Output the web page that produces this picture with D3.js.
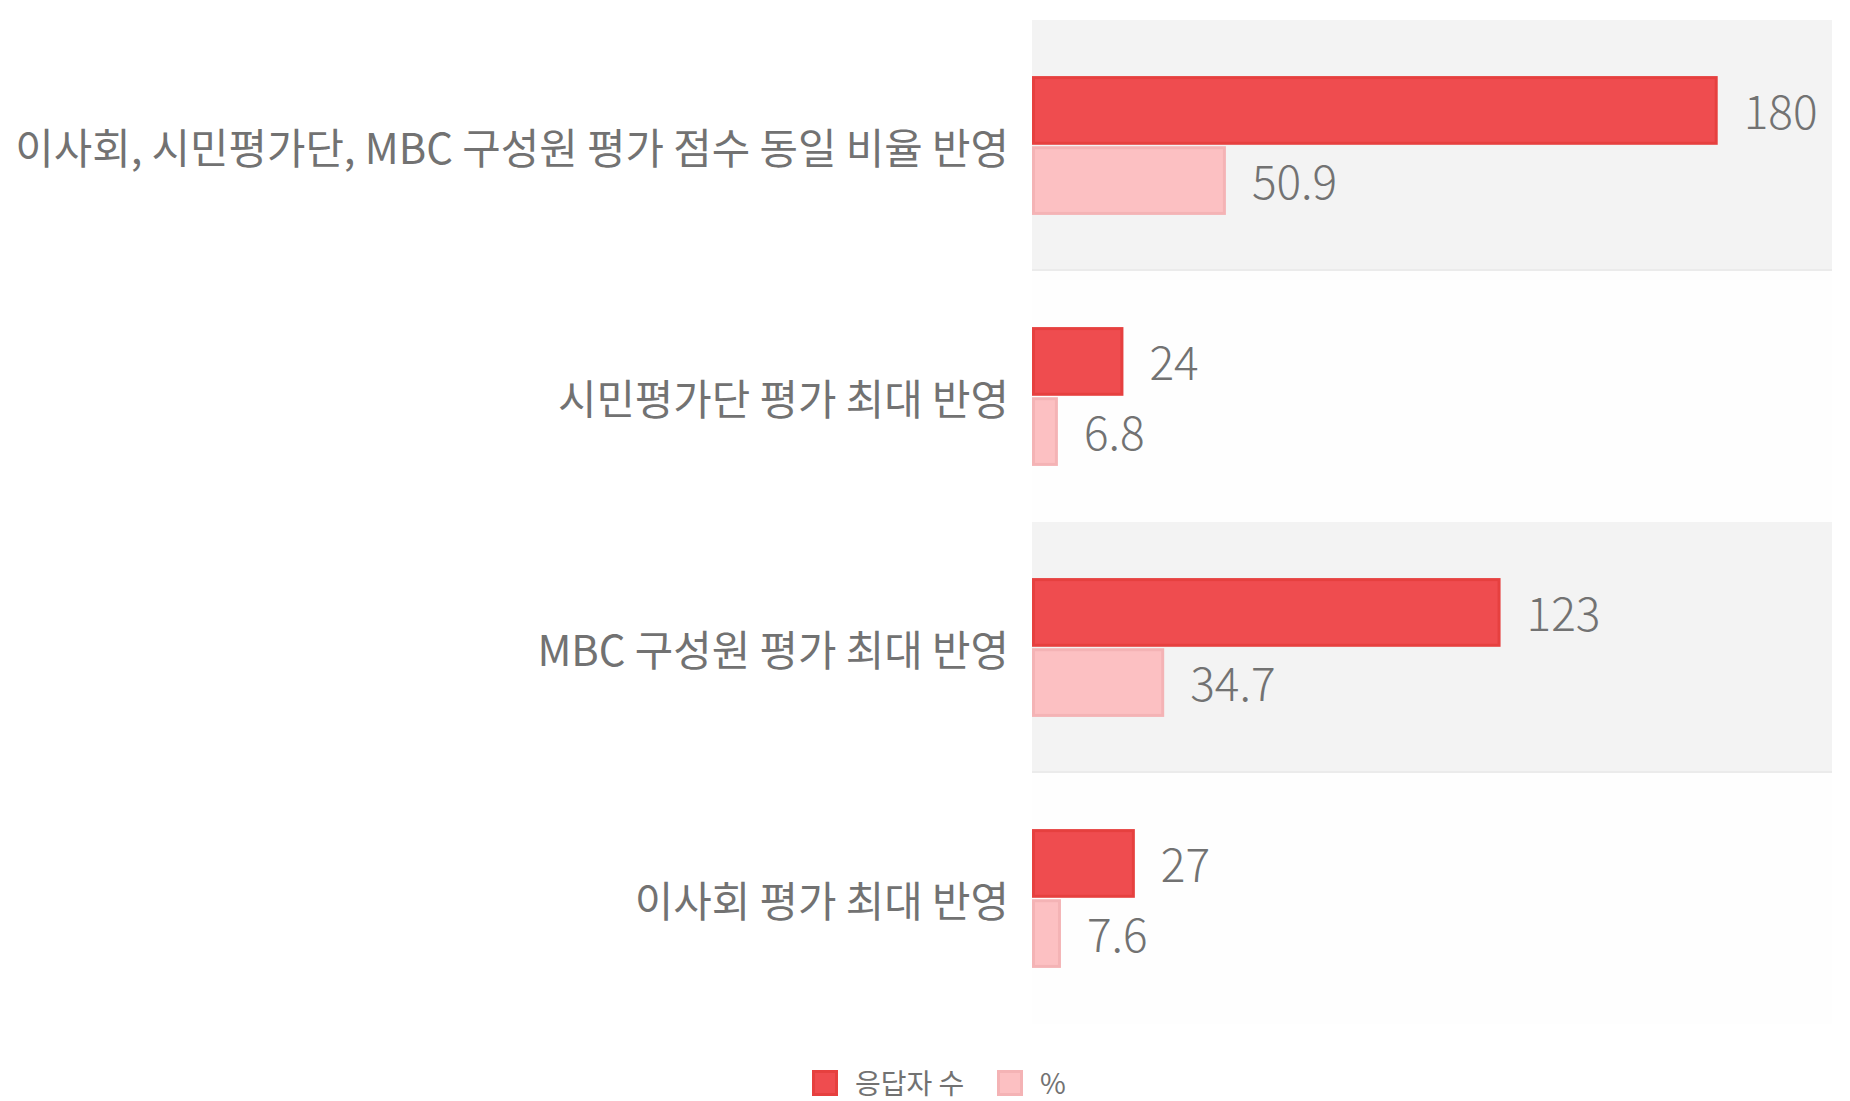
<!DOCTYPE html>
<html><head><meta charset="utf-8">
<script src="https://cdn.jsdelivr.net/npm/d3@7"></script>
<style>
html,body{margin:0;padding:0;background:#fff;}
svg{display:block;font-family:"Noto Sans CJK KR","Noto Sans",sans-serif;}
</style></head>
<body><svg id="chart" width="1850" height="1101"></svg>
<script>
const categories = ["이사회, 시민평가단, MBC 구성원 평가 점수 동일 비율 반영","시민평가단 평가 최대 반영","MBC 구성원 평가 최대 반영","이사회 평가 최대 반영"];
const seriesNames = ["응답자 수","%"];
const respondents = [180,24,123,27];
const percents = [50.9,6.8,34.7,7.6];
const colors = ["#ef4c4f","#fcc0c2"];
const strokes = ["#e6403f","#f4b3b5"];

(function(){
const svg = d3.select("#chart");
const pLeft = 1032, pRight = 1832, pTop = 20, pBottom = 1024;
const x = d3.scaleLinear().domain([0,210]).range([pLeft,pRight]);
const y = d3.scaleBand().domain(categories).range([pTop,pBottom]).paddingInner(0).paddingOuter(0);
const inner = d3.scaleBand().domain(seriesNames).range([0,y.bandwidth()]).paddingOuter(0.8).paddingInner(0.02);

svg.append("g").selectAll("rect").data(categories).join("rect")
  .attr("x",pLeft).attr("y",d=>y(d)).attr("width",pRight-pLeft).attr("height",y.bandwidth())
  .attr("fill",(d,i)=>i%2===0?"#f3f3f3":"#fefefe");
svg.append("g").selectAll("line").data(categories.filter((d,i)=>i%2===0)).join("line")
  .attr("x1",pLeft).attr("x2",pRight).attr("y1",d=>y(d)+y.bandwidth()-1).attr("y2",d=>y(d)+y.bandwidth()-1)
  .attr("stroke","#ebebeb").attr("stroke-width",2);

const data = [];
categories.forEach((c,i)=>{
  data.push({cat:c,series:seriesNames[0],v:respondents[i],label:String(respondents[i]),k:0});
  data.push({cat:c,series:seriesNames[1],v:percents[i],label:percents[i].toFixed(1),k:1});
});

svg.append("g").selectAll("rect").data(data).join("rect")
  .attr("x",x(0)+1.5).attr("y",d=>y(d.cat)+inner(d.series)+1.5)
  .attr("width",d=>x(d.v)-x(0)-3).attr("height",inner.bandwidth()-3)
  .attr("fill",d=>colors[d.k]).attr("stroke",d=>strokes[d.k]).attr("stroke-width",3);

svg.append("g").selectAll("text").data(data).join("text")
  .attr("x",d=>x(d.v)+26).attr("y",d=>y(d.cat)+inner(d.series)+inner.bandwidth()/2)
  .attr("dy","0.4em").attr("fill","#727272").attr("font-size",46).attr("font-weight",300)
  .text(d=>d.label);

svg.append("g").selectAll("text").data(categories).join("text")
  .attr("x",1009).attr("y",d=>y(d)+y.bandwidth()/2)
  .attr("dy","0.45em").attr("text-anchor","end").attr("fill","#727272").attr("font-size",41.8)
  .text(d=>d);

const legend = svg.append("g");
const lx = [812,997];
seriesNames.forEach((s,i)=>{
  legend.append("rect").attr("x",lx[i]+1.5).attr("y",1071.5).attr("width",23).attr("height",23)
    .attr("fill",colors[i]).attr("stroke",strokes[i]).attr("stroke-width",3);
  legend.append("text").attr("x",lx[i]+43).attr("y",1083).attr("dy","0.38em")
    .attr("fill","#727272").attr("font-size",28).text(s);
});
})();
</script></body></html>
